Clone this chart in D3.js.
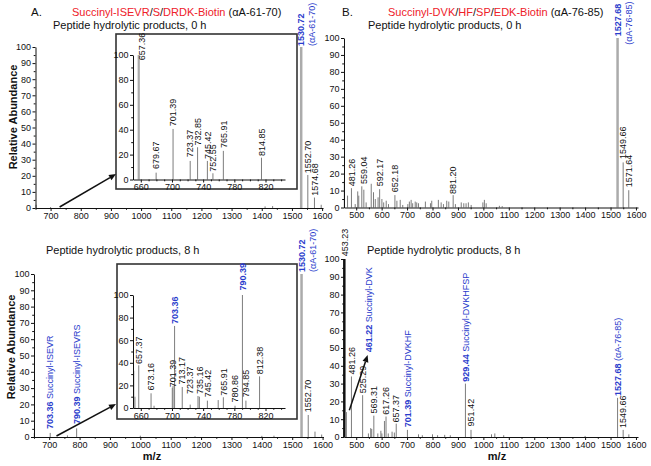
<!DOCTYPE html>
<html><head><meta charset="utf-8">
<script src="https://cdn.jsdelivr.net/npm/d3@7"></script>
<style>body{margin:0;background:#fff}svg{display:block}</style>
</head><body><svg id="c" width="651" height="466"></svg>
<script>
// ---------------- DATA ----------------
// Panel A, 0 h : main spectrum [m/z, relative abundance]
const peaksA0 = [[652,2],[700,0.6],[1411,1],[1436,1.2],[1530.72,100],[1552.70,20.5],[1574.68,6.5],[1597,2]];
// labels: [m/z, abundance at label foot, text, kind, second line, abundance at second-line foot]
const labelsA0 = [[1530.72,100,"1530.72","base","(\u03b1A-61-70)",100],[1552.70,21,"1552.70","p"],[1574.68,7,"1574.68","p"]];
// Panel A, 0 h : zoom inset
const insetA0 = [[657.36,100],[679.67,5.5],[701.39,40.6],[723.37,14.9],[732.85,25.9],[745.42,14.9],[752.55,5],[765.91,23],[814.85,17.5]];
const insetLabelsA0 = [[661,95,"657.36","p"],[679.67,7.6,"679.67","p"],[701.39,42,"701.39","p"],[723.37,17,"723.37","p"],[732.85,26.5,"732.85","p"],[745.42,15.7,"745.42","p"],[752.55,5.5,"752.55","p"],[765.91,24.5,"765.91","p"],[814.85,18,"814.85","p"]];
// Panel A, 8 h : main spectrum
const peaksA8 = [[651,2.5],[703.36,2.5],[760,1],[790.39,5.3],[1000,0.8],[1180,0.5],[1400,0.7],[1440,0.8],[1530.72,100],[1552.70,13.5],[1575,3.3],[1597,1.5]];
const labelsA8 = [[703.36,4.3,"703.36 Succinyl-ISEVR","id"],[790.39,7.4,"790.39 Succinyl-ISEVRS","id"],[1530.72,100.6,"1530.72","base","(\u03b1A-61-70)",100.6],[1552.70,14.5,"1552.70","p"]];
// Panel A, 8 h : zoom inset
const insetA8 = [[651,33],[652.5,10],[657.37,37.8],[673.16,13],[677,2],[700.4,18],[701.39,19.5],[703.36,72.6],[713.17,18.6],[723.37,3],[733.4,10.6],[735.16,10],[745.42,6.5],[759.3,7],[765.91,9.5],[780.86,2],[790.39,100],[794.85,6.5],[812.38,28]];
const insetLabelsA8 = [[657.37,38,"657.37","p"],[673.16,14.5,"673.16","p"],[701.39,17.4,"701.39","p"],[703.36,73.5,"703.36","idb"],[713.17,20,"713.17","p"],[723.37,11.5,"723.37","p"],[735.16,11.5,"735.16","p"],[745.42,8.6,"745.42","p"],[765.91,10,"765.91","p"],[780.86,4,"780.86","p"],[790.39,103,"790.39","idb"],[794.85,8.6,"794.85","p"],[812.38,29,"812.38","p"]];
// Panel B, 0 h
const peaksB0 = [[453.23,15.7],[466,7],[481.26,11.4],[496,2],[506,9.5],[510,7],[522,12.5],[530,10.5],[539,3],[559.04,14],[568,9],[575,5],[586,6],[592.17,10.8],[601,5],[608,3],[618,4],[627,2],[652.18,7.3],[660,4],[673,4.5],[683,1.5],[703,2],[709,3.5],[716,4.5],[722,2.5],[732,3.5],[738,3],[745,2.5],[772,3.5],[792,2.5],[797,4],[823,4.5],[834,3],[843,2],[856,4],[864,3.5],[881.20,7.3],[890,2],[913,3],[923,2.5],[932,2.5],[941,3],[952,1.5],[998,3],[1004,4.5],[1011,2.5],[1063,1],[1074,0.8],[1527.68,100],[1549.66,26.6],[1571.64,10.2]];
const labelsB0 = [[481.26,11.9,"481.26","p"],[529.5,13.3,"559.04","p"],[592.17,11.9,"592.17","p"],[652.18,8.4,"652.18","p"],[881.20,7.4,"881.20","p"],[1527.68,100.5,"1527.68","base","(\u03b1A-76-85)",95.5],[1549.66,28,"1549.66","p"],[1571.64,11.3,"1571.64","p"]];
// Panel B, 8 h
const peaksB8 = [[453.23,100],[461.22,14],[481.26,34],[525.29,23.5],[548,2],[557,5],[561,4.5],[569.31,12],[585,2],[597,3.5],[601,2],[611,9],[617.26,11.5],[626,2],[641,3],[650,2.5],[657.37,7.5],[701.39,4],[745,1.5],[760,1],[800,1.5],[820,1],[848,1.2],[870,1],[929.44,30],[951.42,4],[1032,1.5],[1045,2],[1080,1],[1400,0.6],[1527.68,22],[1549.66,4],[1572,1.5]];
const labelsB8 = [[453.23,101,"453.23","p"],[550,47,"461.22 Succinyl-DVK","id"],[481.26,34.5,"481.26","p"],[525.29,24,"525.29","p"],[569.31,12.6,"569.31","p"],[617.26,12,"617.26","p"],[657.37,7.6,"657.37","p"],[701.39,4.9,"701.39 Succinyl-DVKHF","id"],[929.44,30.5,"929.44 Succinyl-DVKHFSP","id"],[951.42,5.4,"951.42","p"],[1527.68,22.5,"1527.68 (\u03b1A-76-85)","id"],[1549.66,4.5,"1549.66","p"]];

// tick values
const yTicksMain = [0,10,20,30,40,50,60,70,80,90,100];
const yMinorMain = [5,15,25,35,45,55,65,75,85,95];
const xTicksA = [700,800,900,1000,1100,1200,1300,1400,1500,1600];
const xMinorA = [650,750,850,950,1050,1150,1250,1350,1450,1550];
const xTicksB = [500,600,700,800,900,1000,1100,1200,1300,1400,1500,1600];
const xMinorB = [550,650,750,850,950,1050,1150,1250,1350,1450,1550];
const yTicksInset = [0,20,40,60,80,100];
const yMinorInset = [10,30,50,70,90];
const xTicksInset = [660,700,740,780,820];
const xMinorInset = [670,680,690,710,720,730,750,760,770,790,800,810,830,840];

// titles
const titleA = [["Succinyl-ISEVR","r"],["/","k"],["S","r"],["/","k"],["DRDK-Biotin","r"],[" (\u03b1A-61-70)","k"]];
const titleB = [["Succinyl-DVK","r"],["/","k"],["HF","r"],["/","k"],["SP","r"],["/","k"],["EDK-Biotin","r"],[" (\u03b1A-76-85)","k"]];

// ---------------- DRAWING ----------------
const FONT = '"Liberation Sans", Arial, Helvetica, sans-serif';
const RED = "#ee2028", BLUE = "#2a3ccc", GRAY = "#7d7d7d", LIGHT = "#ababab";
const svg = d3.select("#c").style("font-family", FONT);
svg.append("rect").attr("width",651).attr("height",466).attr("fill","#fff");

function styleAxis(sel){
  sel.selectAll("text").attr("font-family",FONT).attr("font-size",9).attr("fill","#111");
  sel.selectAll("line").attr("stroke","#111");
  sel.select(".domain").attr("stroke","#111");
  sel.attr("font-family",null).attr("font-size",null);
}

function panel(cfg){
  const g = svg.append("g");
  const x = d3.scaleLinear().domain(cfg.xd).range(cfg.xr);
  const y = d3.scaleLinear().domain([0,100]).range(cfg.yr);
  if (cfg.frame){
    g.append("rect").attr("x",cfg.frame[0]).attr("y",cfg.frame[1])
      .attr("width",cfg.frame[2]-cfg.frame[0]).attr("height",cfg.frame[3]-cfg.frame[1])
      .attr("fill","#fff").attr("stroke","#333").attr("stroke-width",1.6);
  }
  const pk = cfg.peaks.filter(d=>d[0]>=cfg.xd[0] && d[0]<=cfg.xd[1]);
  g.selectAll("line.pk").data(pk).join("line").attr("class","pk")
    .attr("x1",d=>x(d[0])).attr("x2",d=>x(d[0]))
    .attr("y1",y(0)).attr("y2",d=>y(d[1]))
    .attr("stroke",d=>d[1]>=99.9 ? cfg.baseColor : GRAY)
    .attr("stroke-width",d=>d[1]>=99.9 ? cfg.baseWidth : 1);
  // axes
  const ya = g.append("g").attr("transform",`translate(${cfg.xr[0]},0)`)
    .call(d3.axisLeft(y).tickValues(cfg.yt).tickSize(3).tickSizeOuter(0).tickPadding(1.5).tickFormat(d3.format("d")));
  styleAxis(ya);
  g.append("g").attr("transform",`translate(${cfg.xr[0]},0)`)
    .call(d3.axisLeft(y).tickValues(cfg.ym).tickSize(1.8).tickFormat("")).call(s=>{s.select(".domain").remove();styleAxis(s);});
  const xa = g.append("g").attr("transform",`translate(0,${cfg.yr[0]})`)
    .call(d3.axisBottom(x).tickValues(cfg.xt).tickSize(3).tickSizeOuter(0).tickPadding(1.5).tickFormat(d3.format("d")));
  styleAxis(xa);
  g.append("g").attr("transform",`translate(0,${cfg.yr[0]})`)
    .call(d3.axisBottom(x).tickValues(cfg.xm).tickSize(1.8).tickFormat("")).call(s=>{s.select(".domain").remove();styleAxis(s);});
  // labels
  cfg.labels.forEach(l=>{
    const lg = g.append("g").attr("transform",`translate(${x(l[0])},${y(l[1])-1}) rotate(-90)`);
    const t = lg.append("text").attr("x",0).attr("y",3.2).attr("font-size",9).attr("font-family",FONT);
    if (l[3]==="p"){ t.attr("fill","#111").text(l[2]); }
    else if (l[3]==="idb"){ t.attr("fill",BLUE).attr("font-weight","bold").text(l[2]); }
    else if (l[3]==="id"){
      const i = l[2].indexOf(" ");
      t.attr("fill",BLUE);
      t.append("tspan").attr("font-weight","bold").text(l[2].slice(0,i));
      t.append("tspan").text(l[2].slice(i));
    } else if (l[3]==="base"){
      t.attr("fill",BLUE).attr("font-weight","bold").text(l[2]);
      g.append("text").attr("transform",`translate(${x(l[0])},${y(l[5])-1}) rotate(-90)`)
        .attr("x",0).attr("y",14).attr("font-size",9).attr("font-family",FONT).attr("fill",BLUE).text(l[4]);
    }
  });
  return {x,y,g};
}

function arrow(x1,y1,x2,y2){
  const ang = Math.atan2(y2-y1,x2-x1), L=7, Wd=3;
  const bx = x2 - L*Math.cos(ang), by = y2 - L*Math.sin(ang);
  svg.append("line").attr("x1",x1).attr("y1",y1).attr("x2",bx).attr("y2",by).attr("stroke","#111").attr("stroke-width",1.5);
  const px = -Math.sin(ang)*Wd, py = Math.cos(ang)*Wd;
  svg.append("path").attr("d",`M${x2},${y2}L${bx+px},${by+py}L${bx-px},${by-py}Z`).attr("fill","#111");
}

function title(xs, y, parts){
  const t = svg.append("text").attr("x",xs).attr("y",y).attr("font-size",11).attr("font-family",FONT);
  parts.forEach(p=>t.append("tspan").attr("fill",p[1]==="r"?RED:"#111").text(p[0]));
}
function plain(x,y,s,opt={}){
  const t = svg.append("text").attr("x",x).attr("y",y).attr("font-size",opt.size||11).attr("font-family",FONT)
    .attr("fill","#111").attr("font-weight",opt.bold?"bold":null).attr("text-anchor",opt.anchor||"start").text(s);
  if (opt.rot) t.attr("transform",`rotate(-90,${x},${y})`);
  return t;
}

// Top-left: A 0 h
const pA0 = panel({xd:[650,1603], xr:[35.5,323], yr:[208,47], peaks:peaksA0, labels:labelsA0,
  xt:xTicksA, xm:xMinorA, yt:yTicksMain, ym:yMinorMain, baseColor:LIGHT, baseWidth:2.5});
const iA0 = panel({xd:[650,845], xr:[133,285], yr:[179.5,55], peaks:insetA0, labels:insetLabelsA0,
  xt:xTicksInset, xm:xMinorInset, yt:yTicksInset, ym:yMinorInset, baseColor:LIGHT, baseWidth:2.2,
  frame:[116,34,297,189]});
// Bottom-left: A 8 h
const pA8 = panel({xd:[650,1603], xr:[34,323.5], yr:[437,274], peaks:peaksA8, labels:labelsA8,
  xt:xTicksA, xm:xMinorA, yt:yTicksMain, ym:yMinorMain, baseColor:LIGHT, baseWidth:2.5});
const iA8 = panel({xd:[650,845], xr:[133,285], yr:[408,295], peaks:insetA8, labels:insetLabelsA8,
  xt:xTicksInset, xm:xMinorInset, yt:yTicksInset, ym:yMinorInset, baseColor:GRAY, baseWidth:1,
  frame:[117,264,297,419]});
// Top-right: B 0 h
const pB0 = panel({xd:[452,1608], xr:[344,638], yr:[207.5,38], peaks:peaksB0, labels:labelsB0,
  xt:xTicksB, xm:xMinorB, yt:yTicksMain, ym:yMinorMain, baseColor:LIGHT, baseWidth:2.5});
// Bottom-right: B 8 h
const pB8 = panel({xd:[452,1608], xr:[344,638], yr:[437,259], peaks:peaksB8, labels:labelsB8,
  xt:xTicksB, xm:xMinorB, yt:yTicksMain, ym:yMinorMain, baseColor:"#111", baseWidth:2.5});

// arrows (from main spectrum region to inset / label)
arrow(pA0.x(730), pA0.y(0)-1, 116, 174);
arrow(pA8.x(724), pA8.y(0)-1, 116, 404);
arrow(pB8.x(473), pB8.y(15), pB8.x(545), pB8.y(46));

// titles
plain(31,16,"A.",{size:11.5});
title(72,16,titleA);
plain(53,29,"Peptide hydrolytic products, 0 h");
plain(342,16,"B.",{size:11.5});
title(388,16,titleB);
plain(368,29,"Peptide hydrolytic products, 0 h");
plain(46,254,"Peptide hydrolytic products, 8 h");
plain(367,254,"Peptide hydrolytic products, 8 h");

// axis titles
plain(16.5,117,"Relative Abundance",{bold:true,rot:true,anchor:"middle"});
plain(14.5,347,"Relative Abundance",{bold:true,rot:true,anchor:"middle"});
plain(152,460,"m/z",{bold:true,anchor:"middle"});
plain(497,460,"m/z",{bold:true,anchor:"middle"});
</script></body></html>
